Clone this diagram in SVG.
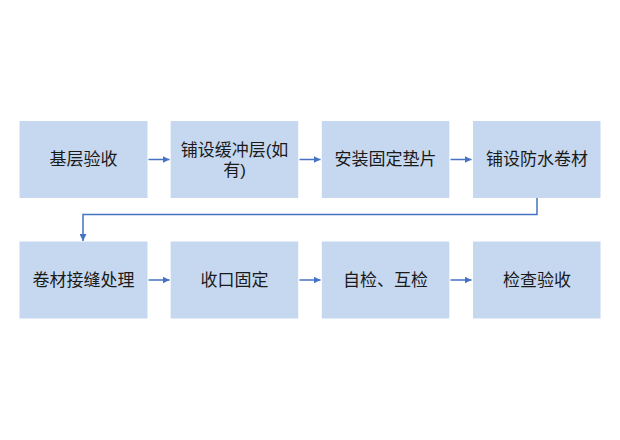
<svg xmlns="http://www.w3.org/2000/svg" width="620" height="440" viewBox="0 0 620 440">
<style>
.box{fill:#C6D8F0;}
.t{font-family:"Liberation Sans","Noto Sans CJK SC",sans-serif;font-size:17px;fill:#1a1a1a;text-anchor:middle;dominant-baseline:central;}
.c{fill:none;stroke:#4472C4;stroke-width:1.5;}
</style>
<defs>
<marker id="ah" viewBox="0 0 10 10" refX="10" refY="5" markerWidth="7" markerHeight="7" markerUnits="userSpaceOnUse" orient="auto">
<path d="M0,0 L10,5 L0,10 z" fill="#4472C4"/>
</marker>
</defs>
<rect width="620" height="440" fill="#ffffff"/>
<g id="n1"><rect class="box" x="19.5" y="121" width="128" height="77"/><text class="t" x="83.5" y="159.5">基层验收</text></g>
<g id="n2"><rect class="box" x="170.7" y="121" width="127.5" height="77"/><text class="t" x="234.5" y="150">铺设缓冲层(如</text><text class="t" x="234.5" y="170">有)</text></g>
<g id="n3"><rect class="box" x="321.8" y="121" width="127.5" height="77"/><text class="t" x="385.5" y="159.5">安装固定垫片</text></g>
<g id="n4"><rect class="box" x="473" y="121" width="127.5" height="77"/><text class="t" x="537" y="159.5">铺设防水卷材</text></g>
<g id="n5"><rect class="box" x="19.5" y="241.5" width="128" height="77"/><text class="t" x="83.5" y="280">卷材接缝处理</text></g>
<g id="n6"><rect class="box" x="170.7" y="241.5" width="127.5" height="77"/><text class="t" x="234.5" y="280">收口固定</text></g>
<g id="n7"><rect class="box" x="321.8" y="241.5" width="127.5" height="77"/><text class="t" x="385.5" y="280">自检、互检</text></g>
<g id="n8"><rect class="box" x="473" y="241.5" width="127.5" height="77"/><text class="t" x="537" y="280">检查验收</text></g>
<g id="connectors">
<line class="c" x1="148.5" y1="159.5" x2="169.5" y2="159.5" marker-end="url(#ah)"/>
<line class="c" x1="299.5" y1="159.5" x2="320.5" y2="159.5" marker-end="url(#ah)"/>
<line class="c" x1="450.5" y1="159.5" x2="471.5" y2="159.5" marker-end="url(#ah)"/>
<polyline class="c" points="537,198 537,214.5 83,214.5 83,241" marker-end="url(#ah)"/>
<line class="c" x1="148.5" y1="280" x2="169.5" y2="280" marker-end="url(#ah)"/>
<line class="c" x1="299.5" y1="280" x2="320.5" y2="280" marker-end="url(#ah)"/>
<line class="c" x1="450.5" y1="280" x2="471.5" y2="280" marker-end="url(#ah)"/>
</g>
</svg>
